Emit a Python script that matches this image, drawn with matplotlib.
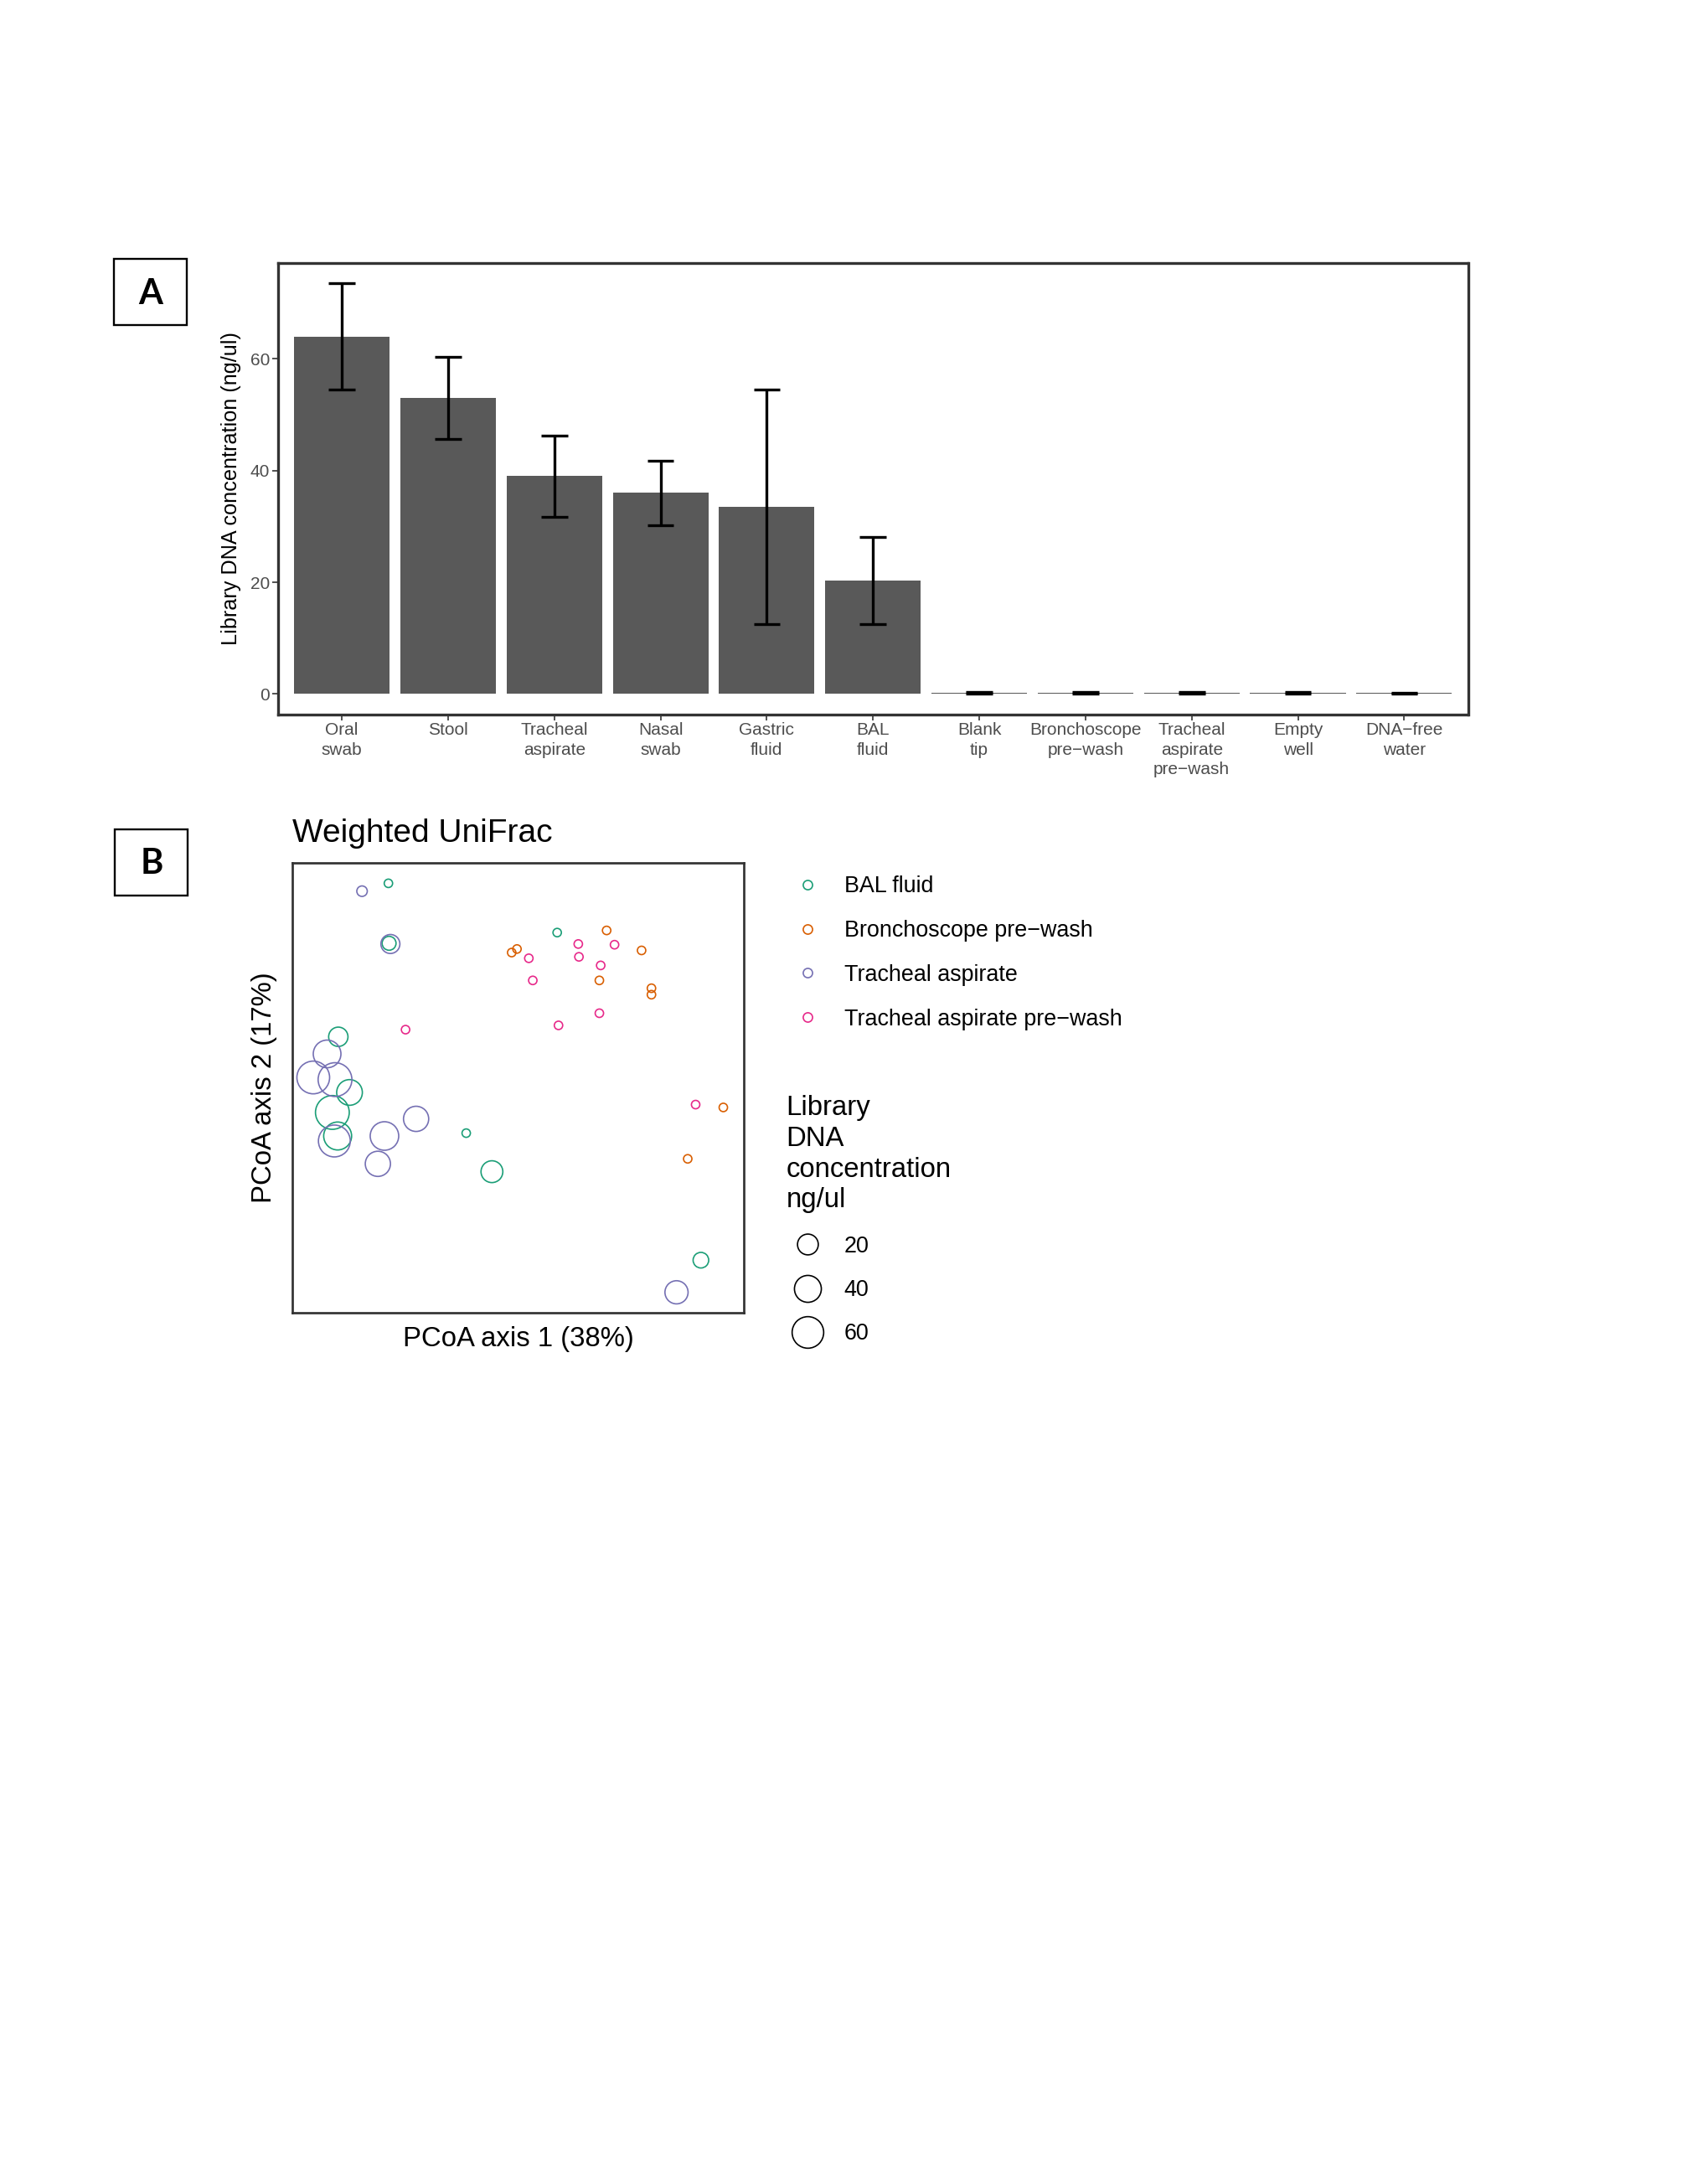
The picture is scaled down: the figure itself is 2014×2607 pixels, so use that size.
import numpy as np
import matplotlib
matplotlib.use("Agg")
import matplotlib.pyplot as plt
from matplotlib.patches import Rectangle
from matplotlib.lines import Line2D

W, H = 2015, 2607
DPI = 100

plt.rcParams['font.family'] = ['Liberation Sans', 'DejaVu Sans']

# Panel A: library DNA concentration per sample type (mean +/- se)
sample_types = ["Oral\nswab", "Stool", "Tracheal\naspirate", "Nasal\nswab", "Gastric\nfluid",
                "BAL\nfluid", "Blank\ntip", "Bronchoscope\npre\u2212wash",
                "Tracheal\naspirate\npre\u2212wash", "Empty\nwell", "DNA\u2212free\nwater"]
mean_conc = [64.0, 53.0, 39.0, 36.0, 33.5, 20.3, 0.25, 0.25, 0.25, 0.25, 0.15]
se_conc = [9.5, 7.4, 7.25, 5.75, 21.0, 7.75, 0.12, 0.12, 0.12, 0.12, 0.1]
y_ticks = [0, 20, 40, 60]

# Panel B: weighted UniFrac PCoA, point size = library DNA concentration
groups = ["BAL fluid", "Bronchoscope pre\u2212wash", "Tracheal aspirate",
          "Tracheal aspirate pre\u2212wash"]
group_colors = ["#1B9E77", "#D95F02", "#7570B3", "#E7298A"]

bal_pc1 = [-0.144, -0.143, 0.112, -0.220, -0.203, -0.229, -0.221, -0.026, 0.013, 0.330]
bal_pc2 = [0.310, 0.226, 0.241, 0.095, 0.017, -0.011, -0.044, -0.040, -0.094, -0.218]
bal_conc = [0.5, 5.7, 0.5, 16.2, 35.5, 70.9, 44.1, 0.5, 22.9, 8.4]

bronch_pc1 = [0.187, 0.051, 0.043, 0.240, 0.176, 0.255, 0.255, 0.364, 0.310]
bronch_pc2 = [0.244, 0.218, 0.213, 0.216, 0.174, 0.163, 0.154, -0.004, -0.076]
bronch_conc = [0.5, 0.5, 0.5, 0.5, 0.5, 0.5, 0.5, 0.5, 0.5]

ta_pc1 = [-0.184, -0.141, -0.237, -0.258, -0.225, -0.226, -0.150, -0.102, -0.160, 0.293]
ta_pc2 = [0.299, 0.225, 0.071, 0.038, 0.035, -0.051, -0.044, -0.020, -0.083, -0.263]
ta_conc = [1.8, 15.4, 43.1, 65.5, 70.9, 61.4, 46.5, 33.7, 33.7, 26.9]

tapw_pc1 = [0.144, 0.199, 0.069, 0.145, 0.178, 0.075, 0.176, 0.114, -0.118, 0.322]
tapw_pc2 = [0.225, 0.224, 0.205, 0.207, 0.195, 0.174, 0.128, 0.111, 0.105, 0.000]
tapw_conc = [0.5, 0.5, 0.5, 0.5, 0.5, 0.5, 0.5, 0.5, 0.5, 0.5]

size_breaks = [20, 40, 60]

LW_PT = 1.2


def marker_diam(conc):
    """diametro del marcador en puntos (escala sqrt, como scale_size)"""
    outer_px = 8.9 + 3.93 * np.sqrt(np.asarray(conc, dtype=float))
    return (outer_px - LW_PT * DPI / 72) * 72 / DPI


fig = plt.figure(figsize=(W / DPI, H / DPI), dpi=DPI)


def px_axes(left, top, right, bottom):
    return fig.add_axes([left / W, 1 - bottom / H, (right - left) / W, (bottom - top) / H])


# ---------- Panel A ----------
axA = px_axes(332, 314, 1752.5, 853)
xpos = np.arange(1, len(sample_types) + 1)
mean_arr = np.array(mean_conc)
se_arr = np.array(se_conc)
lo = mean_arr - se_arr
hi = mean_arr + se_arr
axA.bar(xpos, mean_arr, width=0.9, color="#595959", zorder=2)
axA.vlines(xpos, lo, hi, color="black", lw=2.4, zorder=3)
axA.hlines(lo, xpos - 0.125, xpos + 0.125, color="black", lw=2.4, zorder=3)
axA.hlines(hi, xpos - 0.125, xpos + 0.125, color="black", lw=2.4, zorder=3)
axA.set_xlim(0.4, len(sample_types) + 0.6)
ytop = hi.max()
axA.set_ylim(-0.05 * ytop, 1.05 * ytop)
axA.set_xticks(xpos)
axA.set_xticklabels(sample_types)
axA.set_yticks(y_ticks)
axA.tick_params(axis="both", length=4.75, width=1.2, color="#333333",
                labelcolor="#4D4D4D", labelsize=15)
axA.tick_params(axis="x", pad=2.0)
axA.tick_params(axis="y", pad=2.2)
for lbl in axA.get_xticklabels():
    lbl.set_linespacing(1.29)
for sp in axA.spines.values():
    sp.set_linewidth(2.4)
    sp.set_color("#333333")

# ---------- Panel B ----------
axB = px_axes(349.5, 1030, 888, 1567)
pc1_sets = [bal_pc1, bronch_pc1, ta_pc1, tapw_pc1]
pc2_sets = [bal_pc2, bronch_pc2, ta_pc2, tapw_pc2]
conc_sets = [bal_conc, bronch_conc, ta_conc, tapw_conc]
for pc1, pc2, conc, col in zip(pc1_sets, pc2_sets, conc_sets, group_colors):
    axB.scatter(pc1, pc2, s=marker_diam(conc) ** 2, facecolors="none",
                edgecolors=col, linewidths=LW_PT, zorder=3)
all1 = np.concatenate(pc1_sets)
all2 = np.concatenate(pc2_sets)
r1 = all1.max() - all1.min()
r2 = all2.max() - all2.min()
axB.set_xlim(all1.min() - 0.05 * r1, all1.max() + 0.05 * r1)
axB.set_ylim(all2.min() - 0.05 * r2, all2.max() + 0.05 * r2)
axB.set_xticks([])
axB.set_yticks([])
for sp in axB.spines.values():
    sp.set_linewidth(1.95)
    sp.set_color("#333333")

# leyenda de colores
fs_leg = 19.4
color_handles = [Line2D([], [], ls="", marker="o", markersize=float(marker_diam(1.0)),
                        markerfacecolor="none", markeredgecolor=c, markeredgewidth=LW_PT)
                 for c in group_colors]
leg1 = fig.legend(color_handles, groups, loc="upper left",
                  bbox_to_anchor=(951 / W, 1 - 1045 / H), bbox_transform=fig.transFigure,
                  frameon=False, fontsize=fs_leg, handlelength=1.0, handletextpad=1.11,
                  labelspacing=1.0, borderpad=0, borderaxespad=0)

# leyenda de tamanos
size_handles = [Line2D([], [], ls="", marker="o", markersize=float(marker_diam(v)),
                       markerfacecolor="none", markeredgecolor="black", markeredgewidth=LW_PT)
                for v in size_breaks]
leg2 = fig.legend(size_handles, [str(v) for v in size_breaks], loc="upper left",
                  bbox_to_anchor=(938.7 / W, 1 - 1307 / H), bbox_transform=fig.transFigure,
                  frameon=False, fontsize=fs_leg, handlelength=1.91, handletextpad=0.64,
                  labelspacing=0.98, borderpad=0, borderaxespad=0,
                  title="Library\nDNA\nconcentration\nng/ul", title_fontsize=23.7,
                  alignment="left")
leg2.get_title().set_linespacing(1.24)

# ---------- texts and panel letters ----------
ov = fig.add_axes([0, 0, 1, 1], zorder=10)
ov.set_xlim(0, W)
ov.set_ylim(H, 0)
ov.axis("off")
ov.patch.set_alpha(0)

ov.add_patch(Rectangle((136, 309), 87, 79, fill=False, lw=1.7, ec="black"))
ov.add_patch(Rectangle((136.7, 990), 87, 78.7, fill=False, lw=1.7, ec="black"))
ov.text(179.5, 363, "A", ha="center", va="baseline", fontsize=30, fontweight="bold",
        family=["Lato", "Liberation Sans"])
ov.text(181, 1043, "B", ha="center", va="baseline", fontsize=30, fontweight="bold",
        family=["Lato", "Liberation Sans"])

ov.text(276, 583.5, "Library DNA concentration (ng/ul)", rotation=90,
        ha="center", va="center", fontsize=18.2, color="black")
ov.text(349.5, 1005, "Weighted UniFrac", ha="left", va="baseline", fontsize=28)
ov.text(619, 1606.6, "PCoA axis 1 (38%)", ha="center", va="baseline", fontsize=23.7)
ov.text(316, 1298.5, "PCoA axis 2 (17%)", rotation=90, ha="center", va="center",
        fontsize=23.7)

fig.savefig("out.png", dpi=DPI, facecolor="white")
